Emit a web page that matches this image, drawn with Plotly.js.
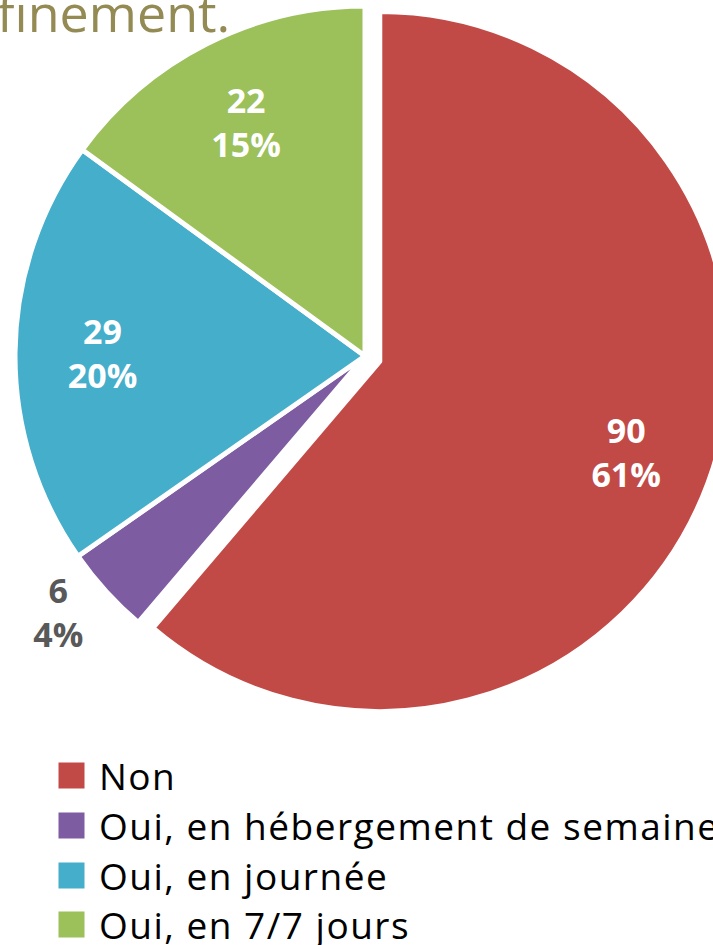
<!DOCTYPE html>
<html>
<head>
<meta charset="utf-8">
<script src="https://cdn.plot.ly/plotly-3.0.1.min.js"></script>
<style>
  html, body { margin: 0; padding: 0; overflow: hidden; background: #fff; width: 713px; height: 945px; }
  #chart { position: absolute; left: -20px; top: -20px; width: 820px; height: 965px; }
</style>
</head>
<body>
<div id="chart"></div>
<script>
// Data
const categories = ["Non", "Oui, en hébergement de semaine", "Oui, en journée", "Oui, en 7/7 jours"];
const values = [90, 6, 29, 22];
const sliceColors = ["#C24A46", "#7E5CA1", "#45AECA", "#9CC05A"];
const labelColors = ["#ffffff", "#595959", "#ffffff", "#ffffff"];
const labelPositions = ["inside", "outside", "inside", "inside"];
const titleText = "confinement.";

// Layout helpers (div is offset by -20px, -20px)
const W = 820, H = 965, OFF = 20;
const px = x => (x + OFF) / W;
const py = y => 1 - (y + OFF) / H;

const cx = 365, cy = 356, r = 350, pull = 0.045;
const half = r * (1 + pull);
const domain = {
  x: [px(cx - half), px(cx + half)],
  y: [py(cy + half), py(cy - half)]
};
const pulls = [pull, 0, 0, 0];

const slices = {
  type: "pie",
  labels: categories,
  values: values,
  sort: false,
  direction: "clockwise",
  rotation: 0,
  pull: pulls,
  marker: { colors: sliceColors, line: { color: "#ffffff", width: 5 } },
  textinfo: "none",
  hoverinfo: "none",
  showlegend: false,
  domain: domain
};

// Transparent ring carrying the data labels (positions labels further out)
const labelRing = {
  type: "pie",
  labels: categories,
  values: values,
  sort: false,
  direction: "clockwise",
  rotation: 0,
  pull: pulls,
  hole: 0.5,
  marker: { colors: categories.map(() => "rgba(0,0,0,0)"), line: { width: 0 } },
  texttemplate: "%{value}<br>%{percent:.0%}",
  textposition: labelPositions,
  insidetextorientation: "horizontal",
  textfont: { family: "Open Sans", size: 34, color: labelColors, weight: "bold" },
  outsidetextfont: { family: "Open Sans", size: 34, color: "#595959", weight: "bold" },
  hoverinfo: "none",
  showlegend: false,
  domain: domain
};

const annotations = [];
annotations.push({
  xref: "paper", yref: "paper", x: px(232), y: py(-26), xanchor: "right", yanchor: "top",
  text: titleText, showarrow: false,
  font: { family: "Open Sans", size: 52, color: "#948A54" }
});
const rowY = [775, 825, 875, 924];
categories.forEach((c, i) => {
  annotations.push({
    xref: "paper", yref: "paper", x: px(71), y: py(rowY[i]), xanchor: "center", yanchor: "middle",
    text: " ", showarrow: false, width: 25, height: 25, bgcolor: sliceColors[i], borderpad: 0
  });
  annotations.push({
    xref: "paper", yref: "paper", x: px(97), y: py(rowY[i]), xanchor: "left", yanchor: "middle",
    text: '<span style="letter-spacing:1.5px">' + c + '</span>', showarrow: false,
    font: { family: "Open Sans", size: 37, color: "#000000" }
  });
});

const layout = {
  width: W, height: H,
  margin: { l: 0, r: 0, t: 0, b: 0 },
  paper_bgcolor: "#ffffff",
  plot_bgcolor: "#ffffff",
  showlegend: false,
  annotations: annotations
};

Plotly.newPlot("chart", [slices, labelRing], layout, { displayModeBar: false, staticPlot: true });
</script>
</body>
</html>
